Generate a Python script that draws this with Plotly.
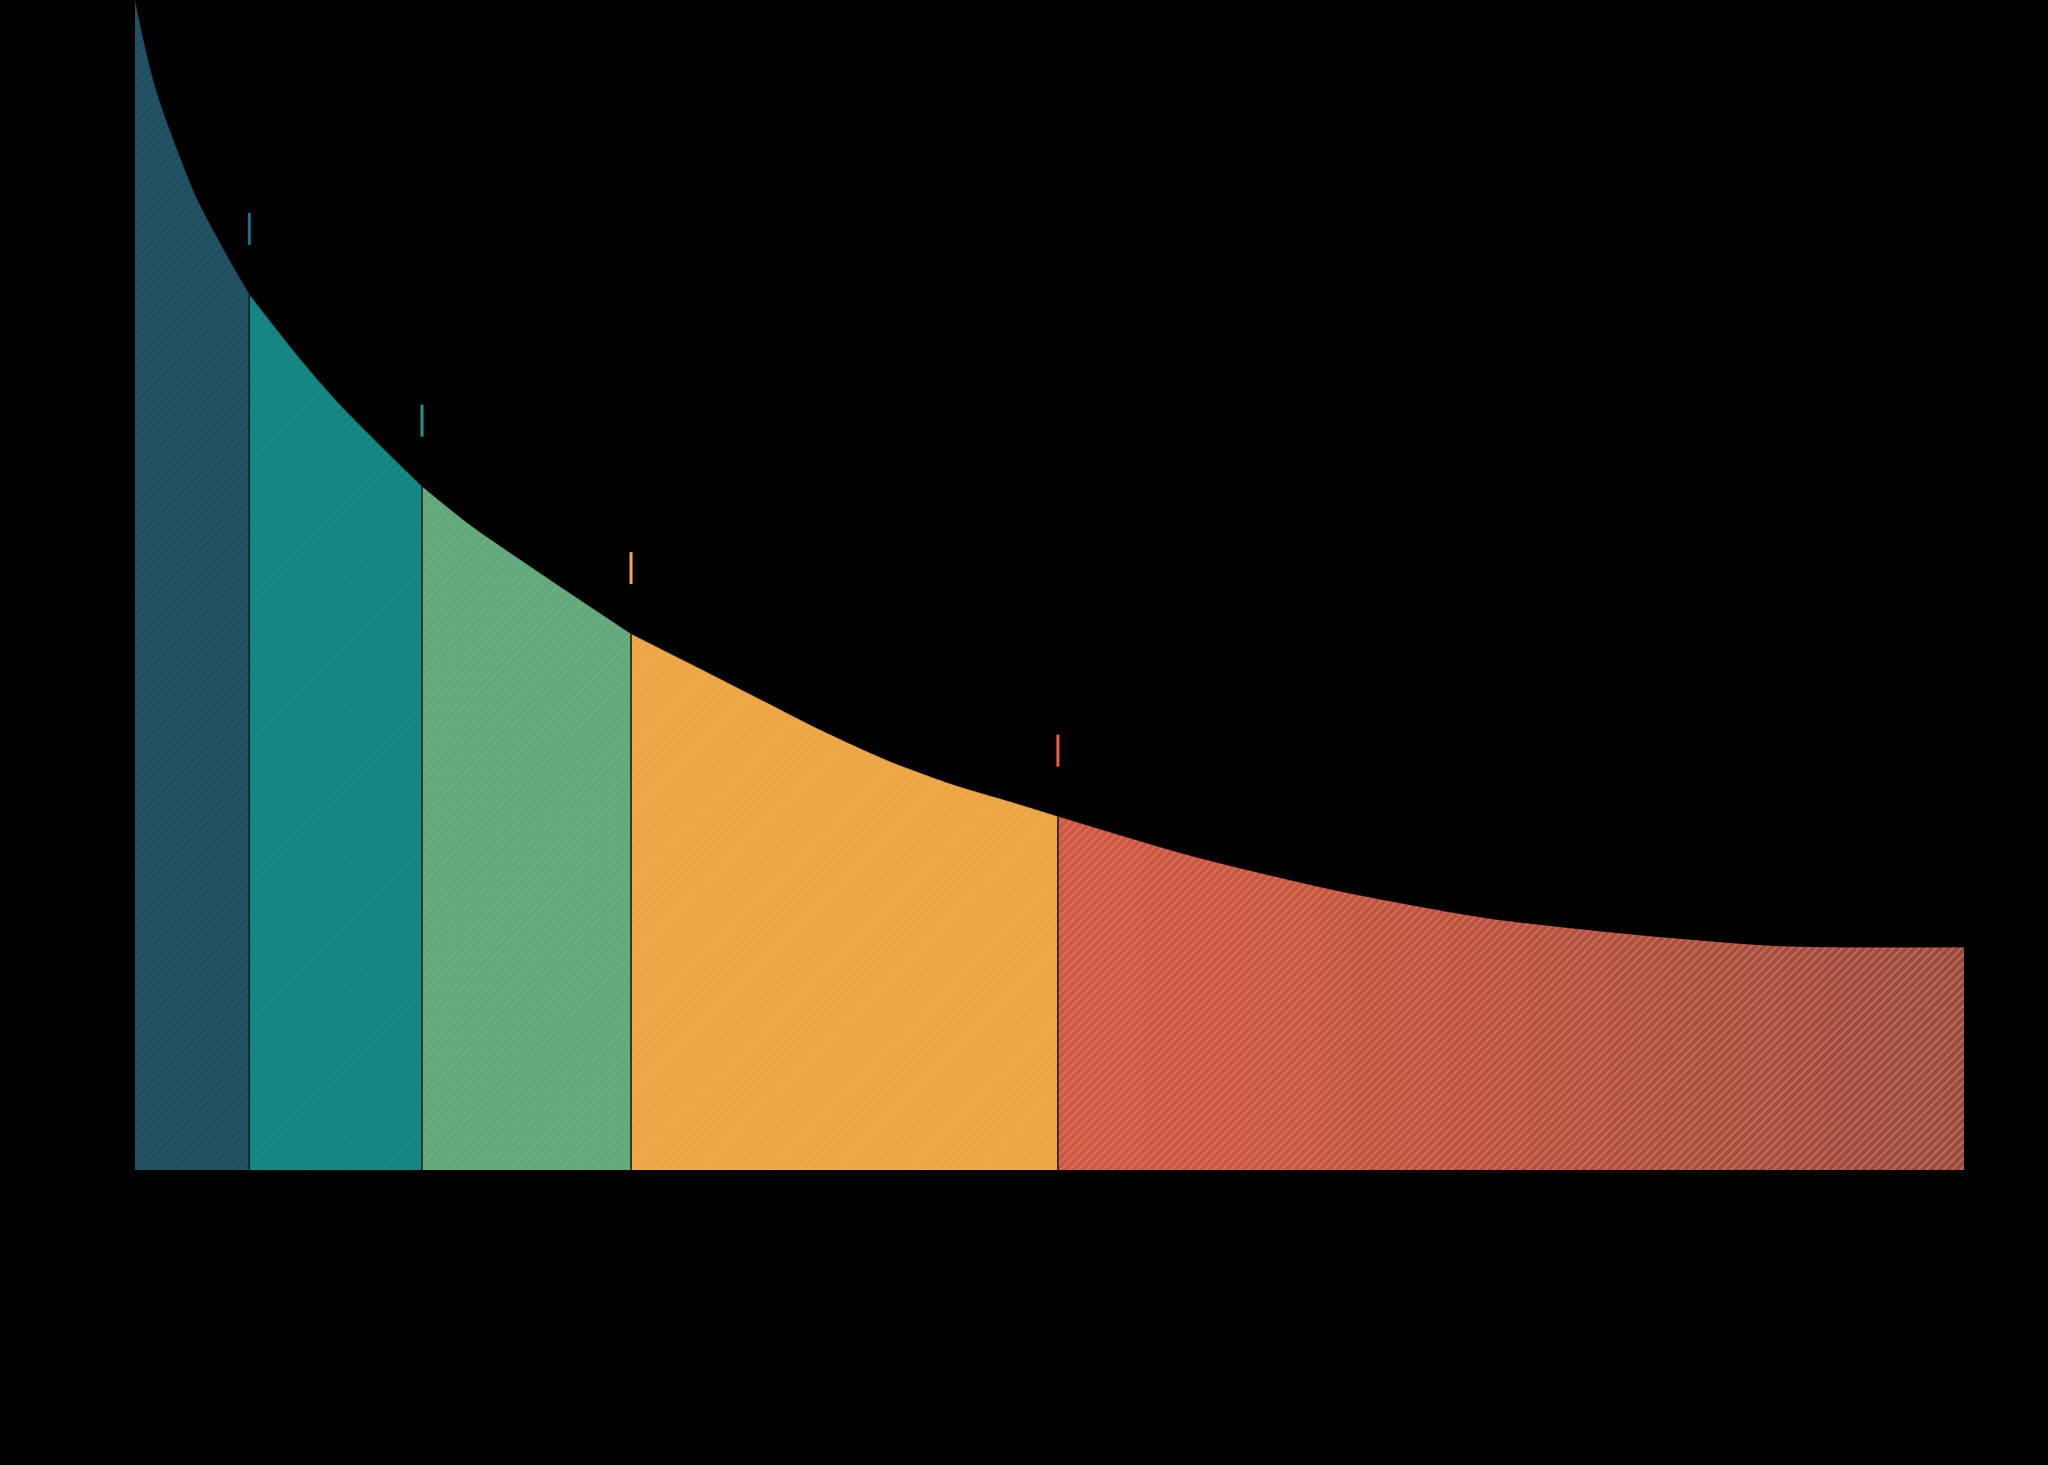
import plotly.graph_objects as go

# ---- data ----
curve_x = [0.0, 0.33, 0.62, 0.97, 1.40, 1.90, 2.61, 3.37, 4.37, 5.36, 6.25,
           9.02, 11.19, 14.05, 15.69,
           18.32, 22.61, 27.12,
           30.16, 33.81, 37.45, 41.10, 44.74, 48.39, 50.46,
           57.79, 65.83, 73.87, 81.85, 89.89, 100.0]
curve_y = [99.9, 97.4, 95.4, 93.2, 91.0, 88.8, 85.9, 83.0, 80.0, 77.2, 74.8,
           69.3, 65.4, 60.9, 58.4,
           55.1, 50.5, 45.8,
           43.4, 40.5, 37.6, 35.0, 32.9, 31.2, 30.2,
           26.8, 23.8, 21.5, 20.1, 19.1, 19.0]
boundaries = [0.0, 6.25, 15.69, 27.12, 50.46, 100.0]
seg_colors = ["#1f4e5f", "#13847f", "#62a87a", "#eba542", "#cf5842"]
seg_stripes = ["#2a5d6e", "#1e938d", "#72b689", "#f4b459", "#dc806c"]
tick_colors = ["#2a6c84", "#17958f", "#f0aa45", "#e8604a"]
red_gradient = [[0.0, "#cf5741"], [0.25, "#c8563f"], [1.0, "#944a3e"]]

fig = go.Figure()

for i in range(len(boundaries) - 1):
    a, b = boundaries[i], boundaries[i + 1]
    xs = [x for x in curve_x if a <= x <= b]
    ys = [y for x, y in zip(curve_x, curve_y) if a <= x <= b]
    if i < len(boundaries) - 2:
        fig.add_trace(go.Scatter(
            x=xs, y=ys, mode="lines", fill="tozeroy",
            line=dict(color=seg_colors[i], width=0.5, shape="spline", smoothing=0.7),
            fillcolor=seg_colors[i],
            fillpattern=dict(shape="/", size=6, solidity=0.35,
                             bgcolor=seg_colors[i], fgcolor=seg_stripes[i], fgopacity=0.45),
            hoverinfo="skip", showlegend=False))
    else:
        fig.add_trace(go.Scatter(
            x=xs, y=ys, mode="lines", fill="tozeroy",
            line=dict(color=seg_colors[i], width=0.5, shape="spline", smoothing=0.7),
            fillgradient=dict(type="horizontal", colorscale=red_gradient),
            hoverinfo="skip", showlegend=False))
        fig.add_trace(go.Scatter(
            x=xs, y=ys, mode="lines", fill="tozeroy",
            line=dict(color="rgba(0,0,0,0)", width=0, shape="spline", smoothing=0.7),
            fillcolor="rgba(0,0,0,0)",
            fillpattern=dict(shape="/", size=6, solidity=0.35,
                             bgcolor="rgba(0,0,0,0)", fgcolor=seg_stripes[i], fgopacity=0.6),
            hoverinfo="skip", showlegend=False))

# separators and tick marks at inner boundaries
for j, xb in enumerate(boundaries[1:-1]):
    yb = curve_y[curve_x.index(xb)]
    fig.add_trace(go.Scatter(x=[xb, xb], y=[0, yb], mode="lines",
                             line=dict(color="#141414", width=1.5),
                             hoverinfo="skip", showlegend=False))
    fig.add_shape(type="line", xref="x", yref="y", ysizemode="pixel",
                  x0=xb, x1=xb, yanchor=yb, y0=50, y1=82,
                  line=dict(color=tick_colors[j], width=3))

fig.update_layout(
    width=2048, height=1465,
    margin=dict(l=135, r=84, t=0, b=295, pad=0),
    paper_bgcolor="#000000", plot_bgcolor="#000000",
    xaxis=dict(range=[0, 100], visible=False, fixedrange=True),
    yaxis=dict(range=[0, 100], visible=False, fixedrange=True),
    showlegend=False,
)

page_js = ("document.documentElement.style.background='#000';"
           "document.body.style.margin='0';document.body.style.padding='0';"
           "document.body.style.background='#000';document.body.style.overflow='hidden';")
fig.write_html("out.html", post_script=page_js, config={"displayModeBar": False})
